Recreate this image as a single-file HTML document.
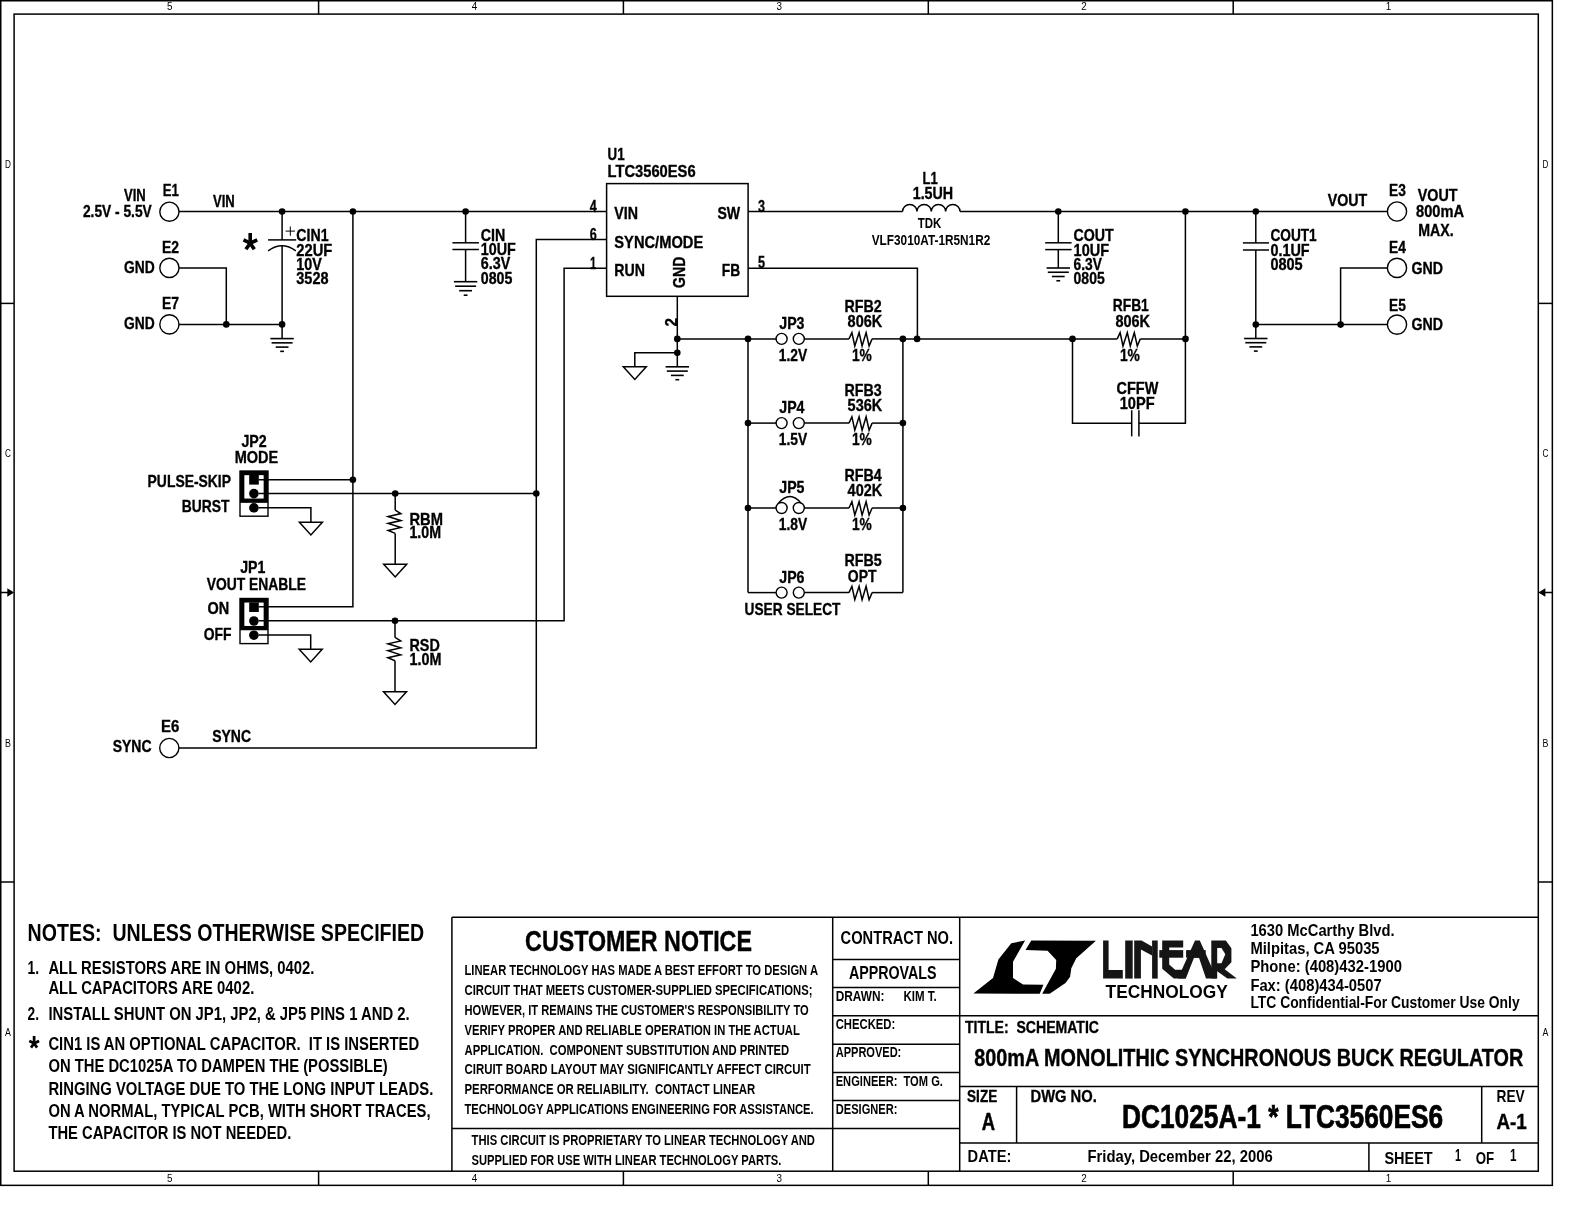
<!DOCTYPE html>
<html><head><meta charset="utf-8"><style>
html,body{margin:0;padding:0;background:#fff;width:1584px;height:1224px;overflow:hidden}
svg{display:block}
text{font-family:"Liberation Sans",sans-serif;fill:#000;white-space:pre}
svg{filter:grayscale(100%)}
</style></head><body>
<svg width="1584" height="1224" viewBox="0 0 1584 1224">
<rect width="1584" height="1224" fill="#fff"/>
<rect x="0.75" y="0.75" width="1551.6" height="1184.6" fill="none" stroke="#000" stroke-width="1.5"/>
<rect x="14.1" y="14.1" width="1524.2" height="1157.1" fill="none" stroke="#000" stroke-width="1.5"/>
<path d="M318.60 0.00 L318.60 14.10" fill="none" stroke="#000" stroke-width="1.5"/>
<path d="M318.60 1171.20 L318.60 1185.40" fill="none" stroke="#000" stroke-width="1.5"/>
<path d="M623.40 0.00 L623.40 14.10" fill="none" stroke="#000" stroke-width="1.5"/>
<path d="M623.40 1171.20 L623.40 1185.40" fill="none" stroke="#000" stroke-width="1.5"/>
<path d="M928.30 0.00 L928.30 14.10" fill="none" stroke="#000" stroke-width="1.5"/>
<path d="M928.30 1171.20 L928.30 1185.40" fill="none" stroke="#000" stroke-width="1.5"/>
<path d="M1233.20 0.00 L1233.20 14.10" fill="none" stroke="#000" stroke-width="1.5"/>
<path d="M1233.20 1171.20 L1233.20 1185.40" fill="none" stroke="#000" stroke-width="1.5"/>
<path d="M0.00 303.40 L14.10 303.40" fill="none" stroke="#000" stroke-width="1.5"/>
<path d="M1538.30 303.40 L1552.40 303.40" fill="none" stroke="#000" stroke-width="1.5"/>
<path d="M0.00 882.00 L14.10 882.00" fill="none" stroke="#000" stroke-width="1.5"/>
<path d="M1538.30 882.00 L1552.40 882.00" fill="none" stroke="#000" stroke-width="1.5"/>
<path d="M0.00 592.50 L8.00 592.50" fill="none" stroke="#000" stroke-width="1.5"/>
<path d="M7.3 588.2 L14.1 592.5 L7.3 596.8 Z" fill="#000"/>
<path d="M1545.00 592.50 L1552.40 592.50" fill="none" stroke="#000" stroke-width="1.5"/>
<path d="M1545.4 588.2 L1538.3 592.5 L1545.4 596.8 Z" fill="#000"/>
<text x="167.05" y="10.1" font-size="11.6" textLength="5.5" lengthAdjust="spacingAndGlyphs">5</text>
<text x="167.05" y="1182.0" font-size="11.6" textLength="5.5" lengthAdjust="spacingAndGlyphs">5</text>
<text x="471.75" y="10.1" font-size="11.6" textLength="5.5" lengthAdjust="spacingAndGlyphs">4</text>
<text x="471.75" y="1182.0" font-size="11.6" textLength="5.5" lengthAdjust="spacingAndGlyphs">4</text>
<text x="776.45" y="10.1" font-size="11.6" textLength="5.5" lengthAdjust="spacingAndGlyphs">3</text>
<text x="776.45" y="1182.0" font-size="11.6" textLength="5.5" lengthAdjust="spacingAndGlyphs">3</text>
<text x="1081.15" y="10.1" font-size="11.6" textLength="5.5" lengthAdjust="spacingAndGlyphs">2</text>
<text x="1081.15" y="1182.0" font-size="11.6" textLength="5.5" lengthAdjust="spacingAndGlyphs">2</text>
<text x="1385.85" y="10.1" font-size="11.6" textLength="5.5" lengthAdjust="spacingAndGlyphs">1</text>
<text x="1385.85" y="1182.0" font-size="11.6" textLength="5.5" lengthAdjust="spacingAndGlyphs">1</text>
<text x="5.0" y="167.6" font-size="11.2" textLength="5.9" lengthAdjust="spacingAndGlyphs">D</text>
<text x="1542.6" y="167.6" font-size="11.2" textLength="5.9" lengthAdjust="spacingAndGlyphs">D</text>
<text x="5.0" y="457.1" font-size="11.2" textLength="5.9" lengthAdjust="spacingAndGlyphs">C</text>
<text x="1542.6" y="457.1" font-size="11.2" textLength="5.9" lengthAdjust="spacingAndGlyphs">C</text>
<text x="5.0" y="746.6" font-size="11.2" textLength="5.9" lengthAdjust="spacingAndGlyphs">B</text>
<text x="1542.6" y="746.6" font-size="11.2" textLength="5.9" lengthAdjust="spacingAndGlyphs">B</text>
<text x="5.0" y="1036.1" font-size="11.2" textLength="5.9" lengthAdjust="spacingAndGlyphs">A</text>
<text x="1542.6" y="1036.1" font-size="11.2" textLength="5.9" lengthAdjust="spacingAndGlyphs">A</text>
<circle cx="169.40" cy="211.70" r="9.60" fill="none" stroke="#000" stroke-width="1.4"/>
<circle cx="169.40" cy="267.90" r="9.60" fill="none" stroke="#000" stroke-width="1.4"/>
<circle cx="169.40" cy="324.40" r="9.60" fill="none" stroke="#000" stroke-width="1.4"/>
<circle cx="169.30" cy="748.00" r="9.60" fill="none" stroke="#000" stroke-width="1.4"/>
<path d="M179.00 211.50 L606.60 211.50" fill="none" stroke="#000" stroke-width="1.5"/>
<circle cx="282.10" cy="211.50" r="3.30" fill="#000"/>
<circle cx="352.90" cy="211.50" r="3.30" fill="#000"/>
<circle cx="465.60" cy="211.50" r="3.30" fill="#000"/>
<path d="M282.10 211.50 L282.10 239.90" fill="none" stroke="#000" stroke-width="1.5"/>
<path d="M268.10 239.90 L296.20 239.90" fill="none" stroke="#000" stroke-width="1.5"/>
<path d="M268.1 250.8 Q282.1 240.6 295.8 250.8" fill="none" stroke="#000" stroke-width="1.5"/>
<path d="M282.10 245.50 L282.10 338.60" fill="none" stroke="#000" stroke-width="1.5"/>
<path d="M285.60 231.10 L295.00 231.10" fill="none" stroke="#000" stroke-width="1.0"/>
<path d="M290.30 226.50 L290.30 235.80" fill="none" stroke="#000" stroke-width="1.0"/>
<circle cx="282.10" cy="324.40" r="3.30" fill="#000"/>
<path d="M270.40 338.60 L293.80 338.60" fill="none" stroke="#000" stroke-width="1.6"/>
<path d="M271.60 342.85 L292.60 342.85" fill="none" stroke="#000" stroke-width="1.6"/>
<path d="M275.70 347.10 L288.50 347.10" fill="none" stroke="#000" stroke-width="1.6"/>
<path d="M280.20 351.35 L284.00 351.35" fill="none" stroke="#000" stroke-width="1.6"/>
<path d="M179.00 267.90 L226.30 267.90 L226.30 324.40" fill="none" stroke="#000" stroke-width="1.5"/>
<path d="M179.00 324.40 L282.10 324.40" fill="none" stroke="#000" stroke-width="1.5"/>
<circle cx="226.30" cy="324.40" r="3.30" fill="#000"/>
<path d="M250.20 243.20 L250.20 233.00" fill="none" stroke="#000" stroke-width="3.6"/>
<path d="M250.20 243.20 L243.50 239.90" fill="none" stroke="#000" stroke-width="3.6"/>
<path d="M250.20 243.20 L257.20 239.90" fill="none" stroke="#000" stroke-width="3.6"/>
<path d="M250.20 243.20 L245.90 249.20" fill="none" stroke="#000" stroke-width="3.6"/>
<path d="M250.20 243.20 L254.30 249.20" fill="none" stroke="#000" stroke-width="3.6"/>
<path d="M465.60 211.50 L465.60 242.80" fill="none" stroke="#000" stroke-width="1.5"/>
<path d="M452.40 242.80 L478.90 242.80" fill="none" stroke="#000" stroke-width="1.5"/>
<path d="M452.40 249.50 L478.90 249.50" fill="none" stroke="#000" stroke-width="1.5"/>
<path d="M465.60 249.50 L465.60 281.70" fill="none" stroke="#000" stroke-width="1.5"/>
<path d="M453.90 281.70 L477.30 281.70" fill="none" stroke="#000" stroke-width="1.6"/>
<path d="M455.10 286.20 L476.10 286.20" fill="none" stroke="#000" stroke-width="1.6"/>
<path d="M459.20 290.70 L472.00 290.70" fill="none" stroke="#000" stroke-width="1.6"/>
<path d="M463.70 295.20 L467.50 295.20" fill="none" stroke="#000" stroke-width="1.6"/>
<path d="M352.90 211.50 L352.90 606.80 L258.70 606.80" fill="none" stroke="#000" stroke-width="1.5"/>
<circle cx="352.90" cy="479.70" r="3.30" fill="#000"/>
<path d="M606.60 239.40 L536.30 239.40 L536.30 748.00 L178.90 748.00" fill="none" stroke="#000" stroke-width="1.5"/>
<circle cx="536.30" cy="493.50" r="3.30" fill="#000"/>
<path d="M606.60 268.20 L564.10 268.20 L564.10 620.80 L258.70 620.80" fill="none" stroke="#000" stroke-width="1.5"/>
<circle cx="395.00" cy="620.80" r="3.30" fill="#000"/>
<rect x="240.0" y="471.10" width="28.0" height="45.1" fill="none" stroke="#000" stroke-width="1.4"/>
<rect x="242.2" y="473.00" width="23.6" height="27.7" fill="none" stroke="#000" stroke-width="4.3"/>
<rect x="249.2" y="475.00" width="9.6" height="9.6" fill="#000"/>
<circle cx="253.90" cy="493.60" r="4.80" fill="#000"/>
<circle cx="253.90" cy="507.80" r="4.80" fill="#000"/>
<rect x="240.0" y="598.50" width="28.0" height="45.1" fill="none" stroke="#000" stroke-width="1.4"/>
<rect x="242.2" y="600.40" width="23.6" height="27.7" fill="none" stroke="#000" stroke-width="4.3"/>
<rect x="249.2" y="602.40" width="9.6" height="9.6" fill="#000"/>
<circle cx="253.90" cy="621.00" r="4.80" fill="#000"/>
<circle cx="253.90" cy="635.20" r="4.80" fill="#000"/>
<path d="M258.70 479.70 L352.90 479.70" fill="none" stroke="#000" stroke-width="1.5"/>
<path d="M258.70 493.50 L536.30 493.50" fill="none" stroke="#000" stroke-width="1.5"/>
<circle cx="395.20" cy="493.50" r="3.30" fill="#000"/>
<path d="M258.70 507.80 L310.90 507.80 L310.90 522.30" fill="none" stroke="#000" stroke-width="1.5"/>
<path d="M299.40 522.30 L322.40 522.30 L310.90 535.00 Z" fill="none" stroke="#000" stroke-width="1.5" stroke-linejoin="miter"/>
<path d="M395.20 510.10 L400.90 513.60 L388.10 516.50 L400.90 520.60 L388.10 523.40 L400.90 527.50 L388.10 530.50 L395.20 533.40" fill="none" stroke="#000" stroke-width="1.5"/>
<path d="M395.20 493.50 L395.20 510.10" fill="none" stroke="#000" stroke-width="1.5"/>
<path d="M395.20 533.40 L395.20 564.30" fill="none" stroke="#000" stroke-width="1.5"/>
<path d="M383.70 564.30 L406.70 564.30 L395.20 577.00 Z" fill="none" stroke="#000" stroke-width="1.5" stroke-linejoin="miter"/>
<path d="M258.70 635.00 L310.70 635.00 L310.70 649.20" fill="none" stroke="#000" stroke-width="1.5"/>
<path d="M299.20 649.20 L322.20 649.20 L310.70 661.90 Z" fill="none" stroke="#000" stroke-width="1.5" stroke-linejoin="miter"/>
<path d="M395.00 620.80 L395.00 637.40" fill="none" stroke="#000" stroke-width="1.5"/>
<path d="M395.00 637.40 L400.70 640.90 L387.90 643.80 L400.70 647.90 L387.90 650.70 L400.70 654.80 L387.90 657.80 L395.00 660.70" fill="none" stroke="#000" stroke-width="1.5"/>
<path d="M395.00 660.70 L395.00 691.70" fill="none" stroke="#000" stroke-width="1.5"/>
<path d="M383.50 691.70 L406.50 691.70 L395.00 704.40 Z" fill="none" stroke="#000" stroke-width="1.5" stroke-linejoin="miter"/>
<rect x="606.6" y="183.6" width="141.5" height="112.7" fill="none" stroke="#000" stroke-width="1.5"/>
<path d="M677.30 296.30 L677.30 366.80" fill="none" stroke="#000" stroke-width="1.5"/>
<circle cx="677.30" cy="338.90" r="3.30" fill="#000"/>
<circle cx="677.30" cy="352.80" r="3.30" fill="#000"/>
<path d="M677.30 352.80 L634.80 352.80 L634.80 366.80" fill="none" stroke="#000" stroke-width="1.5"/>
<path d="M623.30 366.80 L646.30 366.80 L634.80 379.50 Z" fill="none" stroke="#000" stroke-width="1.5" stroke-linejoin="miter"/>
<path d="M665.60 366.80 L689.00 366.80" fill="none" stroke="#000" stroke-width="1.6"/>
<path d="M666.80 371.10 L687.80 371.10" fill="none" stroke="#000" stroke-width="1.6"/>
<path d="M670.90 375.40 L683.70 375.40" fill="none" stroke="#000" stroke-width="1.6"/>
<path d="M675.40 379.70 L679.20 379.70" fill="none" stroke="#000" stroke-width="1.6"/>
<path d="M748.10 211.50 L902.60 211.50" fill="none" stroke="#000" stroke-width="1.5"/>
<path d="M902.6 211.5 A7.17 7.00 0 0 1 916.95 211.5 A7.17 7.00 0 0 1 931.30 211.5 A7.17 7.00 0 0 1 945.65 211.5 A7.17 7.00 0 0 1 960.00 211.5" fill="none" stroke="#000" stroke-width="1.5"/>
<path d="M960.00 211.50 L1387.40 211.50" fill="none" stroke="#000" stroke-width="1.5"/>
<circle cx="1058.30" cy="211.50" r="3.30" fill="#000"/>
<circle cx="1185.40" cy="211.50" r="3.30" fill="#000"/>
<circle cx="1255.80" cy="211.50" r="3.30" fill="#000"/>
<path d="M1058.30 211.50 L1058.30 242.80" fill="none" stroke="#000" stroke-width="1.5"/>
<path d="M1045.20 242.80 L1071.60 242.80" fill="none" stroke="#000" stroke-width="1.5"/>
<path d="M1045.20 249.60 L1071.60 249.60" fill="none" stroke="#000" stroke-width="1.5"/>
<path d="M1058.30 249.60 L1058.30 268.00" fill="none" stroke="#000" stroke-width="1.5"/>
<path d="M1046.60 268.00 L1070.00 268.00" fill="none" stroke="#000" stroke-width="1.6"/>
<path d="M1047.80 272.25 L1068.80 272.25" fill="none" stroke="#000" stroke-width="1.6"/>
<path d="M1051.90 276.50 L1064.70 276.50" fill="none" stroke="#000" stroke-width="1.6"/>
<path d="M1056.40 280.75 L1060.20 280.75" fill="none" stroke="#000" stroke-width="1.6"/>
<path d="M748.10 268.20 L917.40 268.20 L917.40 338.50" fill="none" stroke="#000" stroke-width="1.5"/>
<path d="M677.30 338.90 L776.10 338.90" fill="none" stroke="#000" stroke-width="1.5"/>
<circle cx="781.60" cy="338.90" r="5.50" fill="none" stroke="#000" stroke-width="1.4"/>
<circle cx="798.80" cy="338.90" r="5.50" fill="none" stroke="#000" stroke-width="1.4"/>
<path d="M804.30 338.90 L849.00 338.90" fill="none" stroke="#000" stroke-width="1.5"/>
<path d="M849.00 338.90 L851.90 332.60 L854.80 346.00 L859.10 332.60 L862.10 346.00 L866.10 332.60 L869.10 346.00 L872.10 338.90" fill="none" stroke="#000" stroke-width="1.5"/>
<path d="M872.10 338.90 L902.90 338.90" fill="none" stroke="#000" stroke-width="1.5"/>
<circle cx="748.00" cy="338.90" r="3.30" fill="#000"/>
<circle cx="902.90" cy="338.90" r="3.30" fill="#000"/>
<path d="M748.00 423.10 L776.10 423.10" fill="none" stroke="#000" stroke-width="1.5"/>
<circle cx="781.60" cy="423.10" r="5.50" fill="none" stroke="#000" stroke-width="1.4"/>
<circle cx="798.80" cy="423.10" r="5.50" fill="none" stroke="#000" stroke-width="1.4"/>
<path d="M804.30 423.10 L849.00 423.10" fill="none" stroke="#000" stroke-width="1.5"/>
<path d="M849.00 423.10 L851.90 416.80 L854.80 430.20 L859.10 416.80 L862.10 430.20 L866.10 416.80 L869.10 430.20 L872.10 423.10" fill="none" stroke="#000" stroke-width="1.5"/>
<path d="M872.10 423.10 L902.90 423.10" fill="none" stroke="#000" stroke-width="1.5"/>
<circle cx="748.00" cy="423.10" r="3.30" fill="#000"/>
<circle cx="902.90" cy="423.10" r="3.30" fill="#000"/>
<path d="M748.00 508.00 L776.10 508.00" fill="none" stroke="#000" stroke-width="1.5"/>
<circle cx="781.60" cy="508.00" r="5.50" fill="none" stroke="#000" stroke-width="1.4"/>
<circle cx="798.80" cy="508.00" r="5.50" fill="none" stroke="#000" stroke-width="1.4"/>
<path d="M804.30 508.00 L849.00 508.00" fill="none" stroke="#000" stroke-width="1.5"/>
<path d="M849.00 508.00 L851.90 501.70 L854.80 515.10 L859.10 501.70 L862.10 515.10 L866.10 501.70 L869.10 515.10 L872.10 508.00" fill="none" stroke="#000" stroke-width="1.5"/>
<path d="M872.10 508.00 L902.90 508.00" fill="none" stroke="#000" stroke-width="1.5"/>
<circle cx="748.00" cy="508.00" r="3.30" fill="#000"/>
<circle cx="902.90" cy="508.00" r="3.30" fill="#000"/>
<path d="M748.00 592.60 L776.10 592.60" fill="none" stroke="#000" stroke-width="1.5"/>
<circle cx="781.60" cy="592.60" r="5.50" fill="none" stroke="#000" stroke-width="1.4"/>
<circle cx="798.80" cy="592.60" r="5.50" fill="none" stroke="#000" stroke-width="1.4"/>
<path d="M804.30 592.60 L849.00 592.60" fill="none" stroke="#000" stroke-width="1.5"/>
<path d="M849.00 592.60 L851.90 586.30 L854.80 599.70 L859.10 586.30 L862.10 599.70 L866.10 586.30 L869.10 599.70 L872.10 592.60" fill="none" stroke="#000" stroke-width="1.5"/>
<path d="M872.10 592.60 L902.90 592.60" fill="none" stroke="#000" stroke-width="1.5"/>
<path d="M748.00 338.90 L748.00 592.60" fill="none" stroke="#000" stroke-width="1.5"/>
<path d="M902.90 338.90 L902.90 592.60" fill="none" stroke="#000" stroke-width="1.5"/>
<path d="M902.90 338.90 L1117.20 338.90" fill="none" stroke="#000" stroke-width="1.5"/>
<path d="M1117.20 338.90 L1120.10 332.60 L1123.00 346.00 L1127.30 332.60 L1130.30 346.00 L1134.30 332.60 L1137.30 346.00 L1140.30 338.90" fill="none" stroke="#000" stroke-width="1.5"/>
<path d="M1140.30 338.90 L1185.50 338.90" fill="none" stroke="#000" stroke-width="1.5"/>
<circle cx="917.10" cy="338.90" r="3.30" fill="#000"/>
<circle cx="1072.50" cy="338.90" r="3.30" fill="#000"/>
<circle cx="1185.50" cy="338.90" r="3.30" fill="#000"/>
<path d="M778.0 503.6 Q790.2 489.6 801.2 503.4" fill="none" stroke="#000" stroke-width="1.4"/>
<path d="M1185.40 211.50 L1185.40 423.20 L1138.90 423.20" fill="none" stroke="#000" stroke-width="1.5"/>
<path d="M1072.50 338.90 L1072.50 423.20 L1131.70 423.20" fill="none" stroke="#000" stroke-width="1.5"/>
<path d="M1131.70 410.30 L1131.70 436.40" fill="none" stroke="#000" stroke-width="1.5"/>
<path d="M1138.90 410.30 L1138.90 436.40" fill="none" stroke="#000" stroke-width="1.5"/>
<path d="M1255.80 211.50 L1255.80 242.90" fill="none" stroke="#000" stroke-width="1.5"/>
<path d="M1242.90 242.90 L1269.00 242.90" fill="none" stroke="#000" stroke-width="1.5"/>
<path d="M1242.90 250.00 L1269.00 250.00" fill="none" stroke="#000" stroke-width="1.5"/>
<path d="M1255.80 250.00 L1255.80 338.50" fill="none" stroke="#000" stroke-width="1.5"/>
<circle cx="1255.80" cy="324.60" r="3.30" fill="#000"/>
<path d="M1244.10 338.50 L1267.50 338.50" fill="none" stroke="#000" stroke-width="1.6"/>
<path d="M1245.30 342.70 L1266.30 342.70" fill="none" stroke="#000" stroke-width="1.6"/>
<path d="M1249.40 346.90 L1262.20 346.90" fill="none" stroke="#000" stroke-width="1.6"/>
<path d="M1253.90 351.10 L1257.70 351.10" fill="none" stroke="#000" stroke-width="1.6"/>
<circle cx="1397.00" cy="211.50" r="9.60" fill="none" stroke="#000" stroke-width="1.4"/>
<circle cx="1397.00" cy="267.90" r="9.60" fill="none" stroke="#000" stroke-width="1.4"/>
<circle cx="1397.00" cy="324.60" r="9.60" fill="none" stroke="#000" stroke-width="1.4"/>
<path d="M1387.40 267.90 L1340.60 267.90 L1340.60 324.60" fill="none" stroke="#000" stroke-width="1.5"/>
<path d="M1255.80 324.60 L1387.40 324.60" fill="none" stroke="#000" stroke-width="1.5"/>
<circle cx="1340.60" cy="324.60" r="3.30" fill="#000"/>
<text x="124.00" y="200.90" font-size="17.0" font-weight="bold" textLength="21.80" lengthAdjust="spacingAndGlyphs" stroke="#000" stroke-width="0.35">VIN</text>
<text x="82.90" y="217.00" font-size="17.0" font-weight="bold" textLength="68.90" lengthAdjust="spacingAndGlyphs" stroke="#000" stroke-width="0.35">2.5V - 5.5V</text>
<text x="162.80" y="196.20" font-size="17.0" font-weight="bold" textLength="16.10" lengthAdjust="spacingAndGlyphs" stroke="#000" stroke-width="0.35">E1</text>
<text x="213.00" y="206.60" font-size="17.0" font-weight="bold" textLength="21.80" lengthAdjust="spacingAndGlyphs" stroke="#000" stroke-width="0.35">VIN</text>
<text x="161.90" y="253.40" font-size="17.0" font-weight="bold" textLength="17.00" lengthAdjust="spacingAndGlyphs" stroke="#000" stroke-width="0.35">E2</text>
<text x="124.00" y="272.90" font-size="17.0" font-weight="bold" textLength="30.70" lengthAdjust="spacingAndGlyphs" stroke="#000" stroke-width="0.35">GND</text>
<text x="161.90" y="309.20" font-size="17.0" font-weight="bold" textLength="17.00" lengthAdjust="spacingAndGlyphs" stroke="#000" stroke-width="0.35">E7</text>
<text x="124.00" y="328.70" font-size="17.0" font-weight="bold" textLength="30.70" lengthAdjust="spacingAndGlyphs" stroke="#000" stroke-width="0.35">GND</text>
<text x="296.30" y="240.60" font-size="17.0" font-weight="bold" textLength="32.20" lengthAdjust="spacingAndGlyphs" stroke="#000" stroke-width="0.35">CIN1</text>
<text x="296.30" y="255.80" font-size="17.0" font-weight="bold" textLength="36.00" lengthAdjust="spacingAndGlyphs" stroke="#000" stroke-width="0.35">22UF</text>
<text x="296.30" y="270.00" font-size="17.0" font-weight="bold" textLength="25.60" lengthAdjust="spacingAndGlyphs" stroke="#000" stroke-width="0.35">10V</text>
<text x="296.30" y="284.20" font-size="17.0" font-weight="bold" textLength="32.20" lengthAdjust="spacingAndGlyphs" stroke="#000" stroke-width="0.35">3528</text>
<text x="480.80" y="241.00" font-size="17.0" font-weight="bold" textLength="24.60" lengthAdjust="spacingAndGlyphs" stroke="#000" stroke-width="0.35">CIN</text>
<text x="480.80" y="255.20" font-size="17.0" font-weight="bold" textLength="35.00" lengthAdjust="spacingAndGlyphs" stroke="#000" stroke-width="0.35">10UF</text>
<text x="480.80" y="269.40" font-size="17.0" font-weight="bold" textLength="29.40" lengthAdjust="spacingAndGlyphs" stroke="#000" stroke-width="0.35">6.3V</text>
<text x="480.80" y="283.60" font-size="17.0" font-weight="bold" textLength="31.60" lengthAdjust="spacingAndGlyphs" stroke="#000" stroke-width="0.35">0805</text>
<text x="607.60" y="159.90" font-size="17.0" font-weight="bold" textLength="17.00" lengthAdjust="spacingAndGlyphs" stroke="#000" stroke-width="0.35">U1</text>
<text x="607.60" y="177.00" font-size="17.0" font-weight="bold" textLength="88.00" lengthAdjust="spacingAndGlyphs" stroke="#000" stroke-width="0.35">LTC3560ES6</text>
<text x="614.30" y="219.20" font-size="17.0" font-weight="bold" textLength="23.70" lengthAdjust="spacingAndGlyphs" stroke="#000" stroke-width="0.35">VIN</text>
<text x="614.30" y="248.20" font-size="17.0" font-weight="bold" textLength="88.90" lengthAdjust="spacingAndGlyphs" stroke="#000" stroke-width="0.35">SYNC/MODE</text>
<text x="614.30" y="276.00" font-size="17.0" font-weight="bold" textLength="30.70" lengthAdjust="spacingAndGlyphs" stroke="#000" stroke-width="0.35">RUN</text>
<text x="717.40" y="219.20" font-size="17.0" font-weight="bold" textLength="22.80" lengthAdjust="spacingAndGlyphs" stroke="#000" stroke-width="0.35">SW</text>
<text x="721.80" y="276.00" font-size="17.0" font-weight="bold" textLength="18.40" lengthAdjust="spacingAndGlyphs" stroke="#000" stroke-width="0.35">FB</text>
<text x="0" y="0" font-size="17" font-weight="bold" stroke="#000" stroke-width="0.35" textLength="31.2" lengthAdjust="spacingAndGlyphs" transform="translate(685.4 287.9) rotate(-90)">GND</text>
<text x="589.70" y="211.50" font-size="16.0" font-weight="bold" textLength="7.00" lengthAdjust="spacingAndGlyphs" stroke="#000" stroke-width="0.3">4</text>
<text x="589.70" y="240.40" font-size="16.0" font-weight="bold" textLength="7.00" lengthAdjust="spacingAndGlyphs" stroke="#000" stroke-width="0.3">6</text>
<text x="590.00" y="268.80" font-size="16.0" font-weight="bold" textLength="6.30" lengthAdjust="spacingAndGlyphs" stroke="#000" stroke-width="0.3">1</text>
<text x="758.10" y="212.00" font-size="16.0" font-weight="bold" textLength="7.00" lengthAdjust="spacingAndGlyphs" stroke="#000" stroke-width="0.3">3</text>
<text x="758.10" y="268.30" font-size="16.0" font-weight="bold" textLength="7.00" lengthAdjust="spacingAndGlyphs" stroke="#000" stroke-width="0.3">5</text>
<text x="0" y="0" font-size="16" font-weight="bold" stroke="#000" stroke-width="0.3" textLength="8.5" lengthAdjust="spacingAndGlyphs" transform="translate(676.8 326.6) rotate(-90)">2</text>
<text x="922.50" y="184.30" font-size="17.0" font-weight="bold" textLength="15.20" lengthAdjust="spacingAndGlyphs" stroke="#000" stroke-width="0.35">L1</text>
<text x="912.70" y="199.40" font-size="17.0" font-weight="bold" textLength="40.50" lengthAdjust="spacingAndGlyphs" stroke="#000" stroke-width="0.35">1.5UH</text>
<text x="917.80" y="228.40" font-size="15.2" font-weight="bold" textLength="23.60" lengthAdjust="spacingAndGlyphs">TDK</text>
<text x="871.70" y="245.00" font-size="15.4" font-weight="bold" textLength="118.60" lengthAdjust="spacingAndGlyphs">VLF3010AT-1R5N1R2</text>
<text x="1073.60" y="241.10" font-size="17.0" font-weight="bold" textLength="40.20" lengthAdjust="spacingAndGlyphs" stroke="#000" stroke-width="0.35">COUT</text>
<text x="1073.60" y="255.60" font-size="17.0" font-weight="bold" textLength="35.40" lengthAdjust="spacingAndGlyphs" stroke="#000" stroke-width="0.35">10UF</text>
<text x="1073.60" y="270.10" font-size="17.0" font-weight="bold" textLength="28.40" lengthAdjust="spacingAndGlyphs" stroke="#000" stroke-width="0.35">6.3V</text>
<text x="1073.60" y="284.10" font-size="17.0" font-weight="bold" textLength="31.10" lengthAdjust="spacingAndGlyphs" stroke="#000" stroke-width="0.35">0805</text>
<text x="1270.40" y="241.20" font-size="17.0" font-weight="bold" textLength="46.30" lengthAdjust="spacingAndGlyphs" stroke="#000" stroke-width="0.35">COUT1</text>
<text x="1270.40" y="256.40" font-size="17.0" font-weight="bold" textLength="39.20" lengthAdjust="spacingAndGlyphs" stroke="#000" stroke-width="0.35">0.1UF</text>
<text x="1270.40" y="270.40" font-size="17.0" font-weight="bold" textLength="32.30" lengthAdjust="spacingAndGlyphs" stroke="#000" stroke-width="0.35">0805</text>
<text x="1327.70" y="206.00" font-size="17.0" font-weight="bold" textLength="39.60" lengthAdjust="spacingAndGlyphs" stroke="#000" stroke-width="0.35">VOUT</text>
<text x="1389.00" y="196.40" font-size="17.0" font-weight="bold" textLength="16.80" lengthAdjust="spacingAndGlyphs" stroke="#000" stroke-width="0.35">E3</text>
<text x="1417.70" y="200.70" font-size="17.0" font-weight="bold" textLength="39.80" lengthAdjust="spacingAndGlyphs" stroke="#000" stroke-width="0.35">VOUT</text>
<text x="1416.00" y="217.30" font-size="17.0" font-weight="bold" textLength="48.00" lengthAdjust="spacingAndGlyphs" stroke="#000" stroke-width="0.35">800mA</text>
<text x="1418.30" y="235.70" font-size="17.0" font-weight="bold" textLength="35.40" lengthAdjust="spacingAndGlyphs" stroke="#000" stroke-width="0.35">MAX.</text>
<text x="1389.00" y="252.90" font-size="17.0" font-weight="bold" textLength="16.80" lengthAdjust="spacingAndGlyphs" stroke="#000" stroke-width="0.35">E4</text>
<text x="1411.50" y="274.10" font-size="17.0" font-weight="bold" textLength="31.50" lengthAdjust="spacingAndGlyphs" stroke="#000" stroke-width="0.35">GND</text>
<text x="1389.00" y="311.00" font-size="17.0" font-weight="bold" textLength="16.80" lengthAdjust="spacingAndGlyphs" stroke="#000" stroke-width="0.35">E5</text>
<text x="1411.50" y="330.40" font-size="17.0" font-weight="bold" textLength="31.50" lengthAdjust="spacingAndGlyphs" stroke="#000" stroke-width="0.35">GND</text>
<text x="241.40" y="447.10" font-size="17.0" font-weight="bold" textLength="25.30" lengthAdjust="spacingAndGlyphs" stroke="#000" stroke-width="0.35">JP2</text>
<text x="234.70" y="463.20" font-size="17.0" font-weight="bold" textLength="43.60" lengthAdjust="spacingAndGlyphs" stroke="#000" stroke-width="0.35">MODE</text>
<text x="147.60" y="486.90" font-size="17.0" font-weight="bold" textLength="83.40" lengthAdjust="spacingAndGlyphs" stroke="#000" stroke-width="0.35">PULSE-SKIP</text>
<text x="181.70" y="511.80" font-size="17.0" font-weight="bold" textLength="47.70" lengthAdjust="spacingAndGlyphs" stroke="#000" stroke-width="0.35">BURST</text>
<text x="240.20" y="573.10" font-size="17.0" font-weight="bold" textLength="25.20" lengthAdjust="spacingAndGlyphs" stroke="#000" stroke-width="0.35">JP1</text>
<text x="206.70" y="589.70" font-size="17.0" font-weight="bold" textLength="99.40" lengthAdjust="spacingAndGlyphs" stroke="#000" stroke-width="0.35">VOUT ENABLE</text>
<text x="207.50" y="614.30" font-size="17.0" font-weight="bold" textLength="21.70" lengthAdjust="spacingAndGlyphs" stroke="#000" stroke-width="0.35">ON</text>
<text x="203.70" y="639.50" font-size="17.0" font-weight="bold" textLength="27.80" lengthAdjust="spacingAndGlyphs" stroke="#000" stroke-width="0.35">OFF</text>
<text x="409.40" y="524.80" font-size="17.0" font-weight="bold" textLength="33.50" lengthAdjust="spacingAndGlyphs" stroke="#000" stroke-width="0.35">RBM</text>
<text x="409.40" y="538.40" font-size="17.0" font-weight="bold" textLength="31.60" lengthAdjust="spacingAndGlyphs" stroke="#000" stroke-width="0.35">1.0M</text>
<text x="409.50" y="650.80" font-size="17.0" font-weight="bold" textLength="30.30" lengthAdjust="spacingAndGlyphs" stroke="#000" stroke-width="0.35">RSD</text>
<text x="409.50" y="665.40" font-size="17.0" font-weight="bold" textLength="31.90" lengthAdjust="spacingAndGlyphs" stroke="#000" stroke-width="0.35">1.0M</text>
<text x="161.00" y="732.20" font-size="17.0" font-weight="bold" textLength="18.30" lengthAdjust="spacingAndGlyphs" stroke="#000" stroke-width="0.35">E6</text>
<text x="112.70" y="751.80" font-size="17.0" font-weight="bold" textLength="38.90" lengthAdjust="spacingAndGlyphs" stroke="#000" stroke-width="0.35">SYNC</text>
<text x="212.20" y="742.10" font-size="17.0" font-weight="bold" textLength="38.80" lengthAdjust="spacingAndGlyphs" stroke="#000" stroke-width="0.35">SYNC</text>
<text x="779.30" y="328.80" font-size="17.0" font-weight="bold" textLength="25.20" lengthAdjust="spacingAndGlyphs" stroke="#000" stroke-width="0.35">JP3</text>
<text x="778.80" y="360.60" font-size="17.0" font-weight="bold" textLength="28.40" lengthAdjust="spacingAndGlyphs" stroke="#000" stroke-width="0.35">1.2V</text>
<text x="844.50" y="311.90" font-size="17.0" font-weight="bold" textLength="37.20" lengthAdjust="spacingAndGlyphs" stroke="#000" stroke-width="0.35">RFB2</text>
<text x="847.60" y="326.70" font-size="17.0" font-weight="bold" textLength="34.60" lengthAdjust="spacingAndGlyphs" stroke="#000" stroke-width="0.35">806K</text>
<text x="851.90" y="360.60" font-size="17.0" font-weight="bold" textLength="19.90" lengthAdjust="spacingAndGlyphs" stroke="#000" stroke-width="0.35">1%</text>
<text x="779.30" y="413.00" font-size="17.0" font-weight="bold" textLength="25.20" lengthAdjust="spacingAndGlyphs" stroke="#000" stroke-width="0.35">JP4</text>
<text x="778.80" y="444.80" font-size="17.0" font-weight="bold" textLength="28.40" lengthAdjust="spacingAndGlyphs" stroke="#000" stroke-width="0.35">1.5V</text>
<text x="844.50" y="396.10" font-size="17.0" font-weight="bold" textLength="37.20" lengthAdjust="spacingAndGlyphs" stroke="#000" stroke-width="0.35">RFB3</text>
<text x="847.60" y="410.90" font-size="17.0" font-weight="bold" textLength="34.60" lengthAdjust="spacingAndGlyphs" stroke="#000" stroke-width="0.35">536K</text>
<text x="851.90" y="444.80" font-size="17.0" font-weight="bold" textLength="19.90" lengthAdjust="spacingAndGlyphs" stroke="#000" stroke-width="0.35">1%</text>
<text x="779.30" y="492.70" font-size="17.0" font-weight="bold" textLength="25.20" lengthAdjust="spacingAndGlyphs" stroke="#000" stroke-width="0.35">JP5</text>
<text x="778.80" y="529.70" font-size="17.0" font-weight="bold" textLength="28.40" lengthAdjust="spacingAndGlyphs" stroke="#000" stroke-width="0.35">1.8V</text>
<text x="844.50" y="481.00" font-size="17.0" font-weight="bold" textLength="37.20" lengthAdjust="spacingAndGlyphs" stroke="#000" stroke-width="0.35">RFB4</text>
<text x="847.60" y="495.80" font-size="17.0" font-weight="bold" textLength="34.60" lengthAdjust="spacingAndGlyphs" stroke="#000" stroke-width="0.35">402K</text>
<text x="851.90" y="529.70" font-size="17.0" font-weight="bold" textLength="19.90" lengthAdjust="spacingAndGlyphs" stroke="#000" stroke-width="0.35">1%</text>
<text x="779.30" y="582.50" font-size="17.0" font-weight="bold" textLength="25.20" lengthAdjust="spacingAndGlyphs" stroke="#000" stroke-width="0.35">JP6</text>
<text x="844.50" y="565.60" font-size="17.0" font-weight="bold" textLength="37.20" lengthAdjust="spacingAndGlyphs" stroke="#000" stroke-width="0.35">RFB5</text>
<text x="847.80" y="581.60" font-size="17.0" font-weight="bold" textLength="28.70" lengthAdjust="spacingAndGlyphs" stroke="#000" stroke-width="0.35">OPT</text>
<text x="744.60" y="615.00" font-size="17.0" font-weight="bold" textLength="95.80" lengthAdjust="spacingAndGlyphs" stroke="#000" stroke-width="0.35">USER SELECT</text>
<text x="1112.80" y="311.40" font-size="17.0" font-weight="bold" textLength="36.00" lengthAdjust="spacingAndGlyphs" stroke="#000" stroke-width="0.35">RFB1</text>
<text x="1115.40" y="326.90" font-size="17.0" font-weight="bold" textLength="34.60" lengthAdjust="spacingAndGlyphs" stroke="#000" stroke-width="0.35">806K</text>
<text x="1119.90" y="361.30" font-size="17.0" font-weight="bold" textLength="20.00" lengthAdjust="spacingAndGlyphs" stroke="#000" stroke-width="0.35">1%</text>
<text x="1116.60" y="394.00" font-size="17.0" font-weight="bold" textLength="41.70" lengthAdjust="spacingAndGlyphs" stroke="#000" stroke-width="0.35">CFFW</text>
<text x="1119.70" y="409.10" font-size="17.0" font-weight="bold" textLength="34.90" lengthAdjust="spacingAndGlyphs" stroke="#000" stroke-width="0.35">10PF</text>
<text x="27.60" y="941.20" font-size="24.5" font-weight="bold" textLength="396.60" lengthAdjust="spacingAndGlyphs">NOTES:  UNLESS OTHERWISE SPECIFIED</text>
<text x="27.60" y="973.90" font-size="18.4" font-weight="bold" textLength="11.50" lengthAdjust="spacingAndGlyphs">1.</text>
<text x="48.40" y="973.90" font-size="18.4" font-weight="bold" textLength="266.10" lengthAdjust="spacingAndGlyphs">ALL RESISTORS ARE IN OHMS, 0402.</text>
<text x="48.40" y="993.75" font-size="18.4" font-weight="bold" textLength="205.90" lengthAdjust="spacingAndGlyphs">ALL CAPACITORS ARE 0402.</text>
<text x="27.60" y="1019.90" font-size="18.4" font-weight="bold" textLength="11.50" lengthAdjust="spacingAndGlyphs">2.</text>
<text x="48.40" y="1019.90" font-size="18.4" font-weight="bold" textLength="361.30" lengthAdjust="spacingAndGlyphs">INSTALL SHUNT ON JP1, JP2, &amp; JP5 PINS 1 AND 2.</text>
<path d="M34.10 1043.30 L34.10 1035.96" fill="none" stroke="#000" stroke-width="2.7"/>
<path d="M34.10 1043.30 L29.28 1040.92" fill="none" stroke="#000" stroke-width="2.7"/>
<path d="M34.10 1043.30 L39.14 1040.92" fill="none" stroke="#000" stroke-width="2.7"/>
<path d="M34.10 1043.30 L31.00 1047.62" fill="none" stroke="#000" stroke-width="2.7"/>
<path d="M34.10 1043.30 L37.05 1047.62" fill="none" stroke="#000" stroke-width="2.7"/>
<text x="48.40" y="1049.70" font-size="18.4" font-weight="bold" textLength="370.70" lengthAdjust="spacingAndGlyphs">CIN1 IS AN OPTIONAL CAPACITOR.  IT IS INSERTED</text>
<text x="48.40" y="1071.90" font-size="18.4" font-weight="bold" textLength="339.40" lengthAdjust="spacingAndGlyphs">ON THE DC1025A TO DAMPEN THE (POSSIBLE)</text>
<text x="48.40" y="1094.60" font-size="18.4" font-weight="bold" textLength="384.90" lengthAdjust="spacingAndGlyphs">RINGING VOLTAGE DUE TO THE LONG INPUT LEADS.</text>
<text x="48.40" y="1117.30" font-size="18.4" font-weight="bold" textLength="382.10" lengthAdjust="spacingAndGlyphs">ON A NORMAL, TYPICAL PCB, WITH SHORT TRACES,</text>
<text x="48.40" y="1138.60" font-size="18.4" font-weight="bold" textLength="242.90" lengthAdjust="spacingAndGlyphs">THE CAPACITOR IS NOT NEEDED.</text>
<path d="M451.90 917.30 L1538.30 917.30" fill="none" stroke="#000" stroke-width="1.5"/>
<path d="M451.90 917.30 L451.90 1171.20" fill="none" stroke="#000" stroke-width="1.5"/>
<path d="M832.70 917.30 L832.70 1171.20" fill="none" stroke="#000" stroke-width="1.5"/>
<path d="M959.70 917.30 L959.70 1171.20" fill="none" stroke="#000" stroke-width="1.5"/>
<path d="M832.70 959.40 L959.70 959.40" fill="none" stroke="#000" stroke-width="1.5"/>
<path d="M832.70 987.50 L959.70 987.50" fill="none" stroke="#000" stroke-width="1.5"/>
<path d="M832.70 1044.30 L959.70 1044.30" fill="none" stroke="#000" stroke-width="1.5"/>
<path d="M832.70 1072.40 L959.70 1072.40" fill="none" stroke="#000" stroke-width="1.5"/>
<path d="M832.70 1100.50 L959.70 1100.50" fill="none" stroke="#000" stroke-width="1.5"/>
<path d="M832.70 1015.80 L1538.30 1015.80" fill="none" stroke="#000" stroke-width="1.5"/>
<path d="M451.90 1128.60 L959.70 1128.60" fill="none" stroke="#000" stroke-width="1.5"/>
<path d="M959.70 1086.60 L1538.30 1086.60" fill="none" stroke="#000" stroke-width="1.5"/>
<path d="M959.70 1142.90 L1538.30 1142.90" fill="none" stroke="#000" stroke-width="1.5"/>
<path d="M1016.60 1086.60 L1016.60 1142.90" fill="none" stroke="#000" stroke-width="1.5"/>
<path d="M1481.70 1086.60 L1481.70 1142.90" fill="none" stroke="#000" stroke-width="1.5"/>
<path d="M1368.90 1142.90 L1368.90 1171.20" fill="none" stroke="#000" stroke-width="1.5"/>
<text x="525.10" y="950.70" font-size="29.5" font-weight="bold" textLength="226.80" lengthAdjust="spacingAndGlyphs" stroke="#000" stroke-width="0.4">CUSTOMER NOTICE</text>
<text x="464.50" y="975.00" font-size="14.3" font-weight="bold" textLength="353.50" lengthAdjust="spacingAndGlyphs">LINEAR TECHNOLOGY HAS MADE A BEST EFFORT TO DESIGN A</text>
<text x="464.50" y="994.60" font-size="14.3" font-weight="bold" textLength="348.00" lengthAdjust="spacingAndGlyphs">CIRCUIT THAT MEETS CUSTOMER-SUPPLIED SPECIFICATIONS;</text>
<text x="464.50" y="1014.80" font-size="14.3" font-weight="bold" textLength="344.20" lengthAdjust="spacingAndGlyphs">HOWEVER, IT REMAINS THE CUSTOMER'S RESPONSIBILITY TO</text>
<text x="464.50" y="1035.00" font-size="14.3" font-weight="bold" textLength="335.30" lengthAdjust="spacingAndGlyphs">VERIFY PROPER AND RELIABLE OPERATION IN THE ACTUAL</text>
<text x="464.50" y="1055.30" font-size="14.3" font-weight="bold" textLength="324.70" lengthAdjust="spacingAndGlyphs">APPLICATION.  COMPONENT SUBSTITUTION AND PRINTED</text>
<text x="464.50" y="1073.90" font-size="14.3" font-weight="bold" textLength="346.20" lengthAdjust="spacingAndGlyphs">CIRUIT BOARD LAYOUT MAY SIGNIFICANTLY AFFECT CIRCUIT</text>
<text x="464.50" y="1094.00" font-size="14.3" font-weight="bold" textLength="290.70" lengthAdjust="spacingAndGlyphs">PERFORMANCE OR RELIABILITY.  CONTACT LINEAR</text>
<text x="464.50" y="1114.10" font-size="14.3" font-weight="bold" textLength="349.20" lengthAdjust="spacingAndGlyphs">TECHNOLOGY APPLICATIONS ENGINEERING FOR ASSISTANCE.</text>
<text x="471.60" y="1144.90" font-size="14.3" font-weight="bold" textLength="343.40" lengthAdjust="spacingAndGlyphs">THIS CIRCUIT IS PROPRIETARY TO LINEAR TECHNOLOGY AND</text>
<text x="471.60" y="1165.10" font-size="14.3" font-weight="bold" textLength="309.80" lengthAdjust="spacingAndGlyphs">SUPPLIED FOR USE WITH LINEAR TECHNOLOGY PARTS.</text>
<text x="840.60" y="943.70" font-size="18.0" font-weight="bold" textLength="112.40" lengthAdjust="spacingAndGlyphs">CONTRACT NO.</text>
<text x="848.90" y="978.50" font-size="18.0" font-weight="bold" textLength="87.70" lengthAdjust="spacingAndGlyphs">APPROVALS</text>
<text x="835.70" y="1001.00" font-size="14.4" font-weight="bold" textLength="48.70" lengthAdjust="spacingAndGlyphs">DRAWN:</text>
<text x="903.50" y="1001.00" font-size="14.4" font-weight="bold" textLength="33.30" lengthAdjust="spacingAndGlyphs">KIM T.</text>
<text x="835.70" y="1028.60" font-size="14.4" font-weight="bold" textLength="59.50" lengthAdjust="spacingAndGlyphs">CHECKED:</text>
<text x="835.70" y="1057.10" font-size="14.4" font-weight="bold" textLength="65.60" lengthAdjust="spacingAndGlyphs">APPROVED:</text>
<text x="835.70" y="1085.90" font-size="14.4" font-weight="bold" textLength="61.80" lengthAdjust="spacingAndGlyphs">ENGINEER:</text>
<text x="903.50" y="1085.90" font-size="14.4" font-weight="bold" textLength="39.40" lengthAdjust="spacingAndGlyphs">TOM G.</text>
<text x="835.70" y="1114.00" font-size="14.4" font-weight="bold" textLength="61.80" lengthAdjust="spacingAndGlyphs">DESIGNER:</text>
<text x="1250.40" y="936.10" font-size="15.7" font-weight="bold" textLength="144.20" lengthAdjust="spacingAndGlyphs">1630 McCarthy Blvd.</text>
<text x="1250.40" y="954.00" font-size="15.7" font-weight="bold" textLength="129.20" lengthAdjust="spacingAndGlyphs">Milpitas, CA 95035</text>
<text x="1250.40" y="972.20" font-size="15.7" font-weight="bold" textLength="151.50" lengthAdjust="spacingAndGlyphs">Phone: (408)432-1900</text>
<text x="1250.40" y="990.90" font-size="15.7" font-weight="bold" textLength="131.30" lengthAdjust="spacingAndGlyphs">Fax: (408)434-0507</text>
<text x="1250.40" y="1007.60" font-size="15.7" font-weight="bold" textLength="269.20" lengthAdjust="spacingAndGlyphs">LTC Confidential-For Customer Use Only</text>
<text x="1105.60" y="997.80" font-size="17.8" font-weight="600" textLength="122.10" lengthAdjust="spacingAndGlyphs">TECHNOLOGY</text>
<text x="964.90" y="1032.60" font-size="17.0" font-weight="bold" textLength="134.10" lengthAdjust="spacingAndGlyphs" stroke="#000" stroke-width="0.35">TITLE:  SCHEMATIC</text>
<text x="974.30" y="1065.80" font-size="24.3" font-weight="bold" textLength="548.90" lengthAdjust="spacingAndGlyphs" stroke="#000" stroke-width="0.4">800mA MONOLITHIC SYNCHRONOUS BUCK REGULATOR</text>
<text x="967.10" y="1102.20" font-size="17.0" font-weight="bold" textLength="30.10" lengthAdjust="spacingAndGlyphs" stroke="#000" stroke-width="0.35">SIZE</text>
<text x="981.70" y="1130.40" font-size="23.8" font-weight="bold" textLength="13.30" lengthAdjust="spacingAndGlyphs" stroke="#000" stroke-width="0.5">A</text>
<text x="1030.50" y="1102.20" font-size="17.0" font-weight="bold" textLength="66.30" lengthAdjust="spacingAndGlyphs" stroke="#000" stroke-width="0.35">DWG NO.</text>
<text x="1122.00" y="1127.80" font-size="32.4" font-weight="bold" textLength="321.10" lengthAdjust="spacingAndGlyphs" stroke="#000" stroke-width="0.7">DC1025A-1 * LTC3560ES6</text>
<text x="1496.50" y="1102.00" font-size="16.4" font-weight="bold" textLength="28.20" lengthAdjust="spacingAndGlyphs">REV</text>
<text x="1496.50" y="1128.70" font-size="21.5" font-weight="bold" textLength="30.30" lengthAdjust="spacingAndGlyphs" stroke="#000" stroke-width="0.4">A-1</text>
<text x="967.60" y="1162.30" font-size="16.5" font-weight="bold" textLength="43.80" lengthAdjust="spacingAndGlyphs">DATE:</text>
<text x="1087.50" y="1161.80" font-size="16.5" font-weight="bold" textLength="185.20" lengthAdjust="spacingAndGlyphs">Friday, December 22, 2006</text>
<text x="1384.40" y="1163.70" font-size="16.5" font-weight="bold" textLength="48.30" lengthAdjust="spacingAndGlyphs">SHEET</text>
<text x="1455.00" y="1161.30" font-size="16.5" font-weight="bold" textLength="6.00" lengthAdjust="spacingAndGlyphs">1</text>
<text x="1475.80" y="1163.70" font-size="16.5" font-weight="bold" textLength="18.40" lengthAdjust="spacingAndGlyphs">OF</text>
<text x="1509.90" y="1161.30" font-size="16.5" font-weight="bold" textLength="6.50" lengthAdjust="spacingAndGlyphs">1</text>
<path d="M1011.3 943.3 L1025.1 940.4 L1013.0 961.7 L1013.0 977.9 L1023.0 984.6 L1043.4 984.8 L1039.7 993.8 L973.4 993.4 L993.0 977.9 L998.4 959.6 Z" fill="#000"/>
<path d="M1031.3 940.4 L1095.9 940.7 L1076.3 958.3 L1071.3 968.3 L1070.1 976.7 L1065.5 982.9 L1049.7 993.8 L1042.2 993.8 L1055.9 968.8 L1056.2 960.0 L1047.6 950.7 L1025.5 950.0 Z" fill="#000"/>
<path d="M1103.1 940.5 L1108.6 940.5 L1108.6 970.1 L1122.8 970.1 L1122.8 978.6 L1103.1 978.6 Z" fill="#151515"/>
<path d="M1125.2 940.5 L1132.7 940.5 L1132.7 978.6 L1125.2 978.6 Z" fill="#151515"/>
<path d="M1134.2 940.5 L1141.5 940.5 L1152.1 946.5 L1152.1 955.6 L1140.9 949.5 L1140.9 978.6 L1134.2 978.6 Z" fill="#151515"/>
<path d="M1152.1 940.5 L1157.7 940.5 L1157.7 978.6 L1152.1 978.6 Z" fill="#151515"/>
<path d="M1162.2 940.5 L1183.2 940.5 L1183.2 947.5 L1169.2 947.5 L1169.2 964.4 L1175.1 969.7 L1182.0 969.7 L1185.8 978.6 L1173.8 978.6 L1162.2 968.7 Z" fill="#151515"/>
<path d="M1159.3 950.1 L1183.2 950.1 L1183.2 957.7 L1159.3 957.7 Z" fill="#151515"/>
<path d="M1195.0 940.5 L1199.8 940.5 L1216.7 978.6 L1206.0 978.6 L1199.0 957.7 L1194.0 957.7 L1185.8 978.6 L1178.0 978.6 L1181.8 969.7 Z" fill="#151515"/>
<path d="M1186.1 950.1 L1205.7 950.1 L1205.7 957.7 L1186.1 957.7 Z" fill="#151515"/>
<path d="M1211.3 940.5 L1225.8 940.5 L1231.4 948.3 L1231.4 962.2 L1224.7 969.2 L1236.8 978.6 L1227.4 978.6 L1217.2 971.3 L1217.2 978.6 L1211.3 978.6 Z" fill="#151515"/>
<path d="M1217.2 948.0 L1221.5 948.0 L1225.3 954.2 L1221.5 963.3 L1217.2 963.3 Z" fill="#fff"/>
</svg></body></html>
